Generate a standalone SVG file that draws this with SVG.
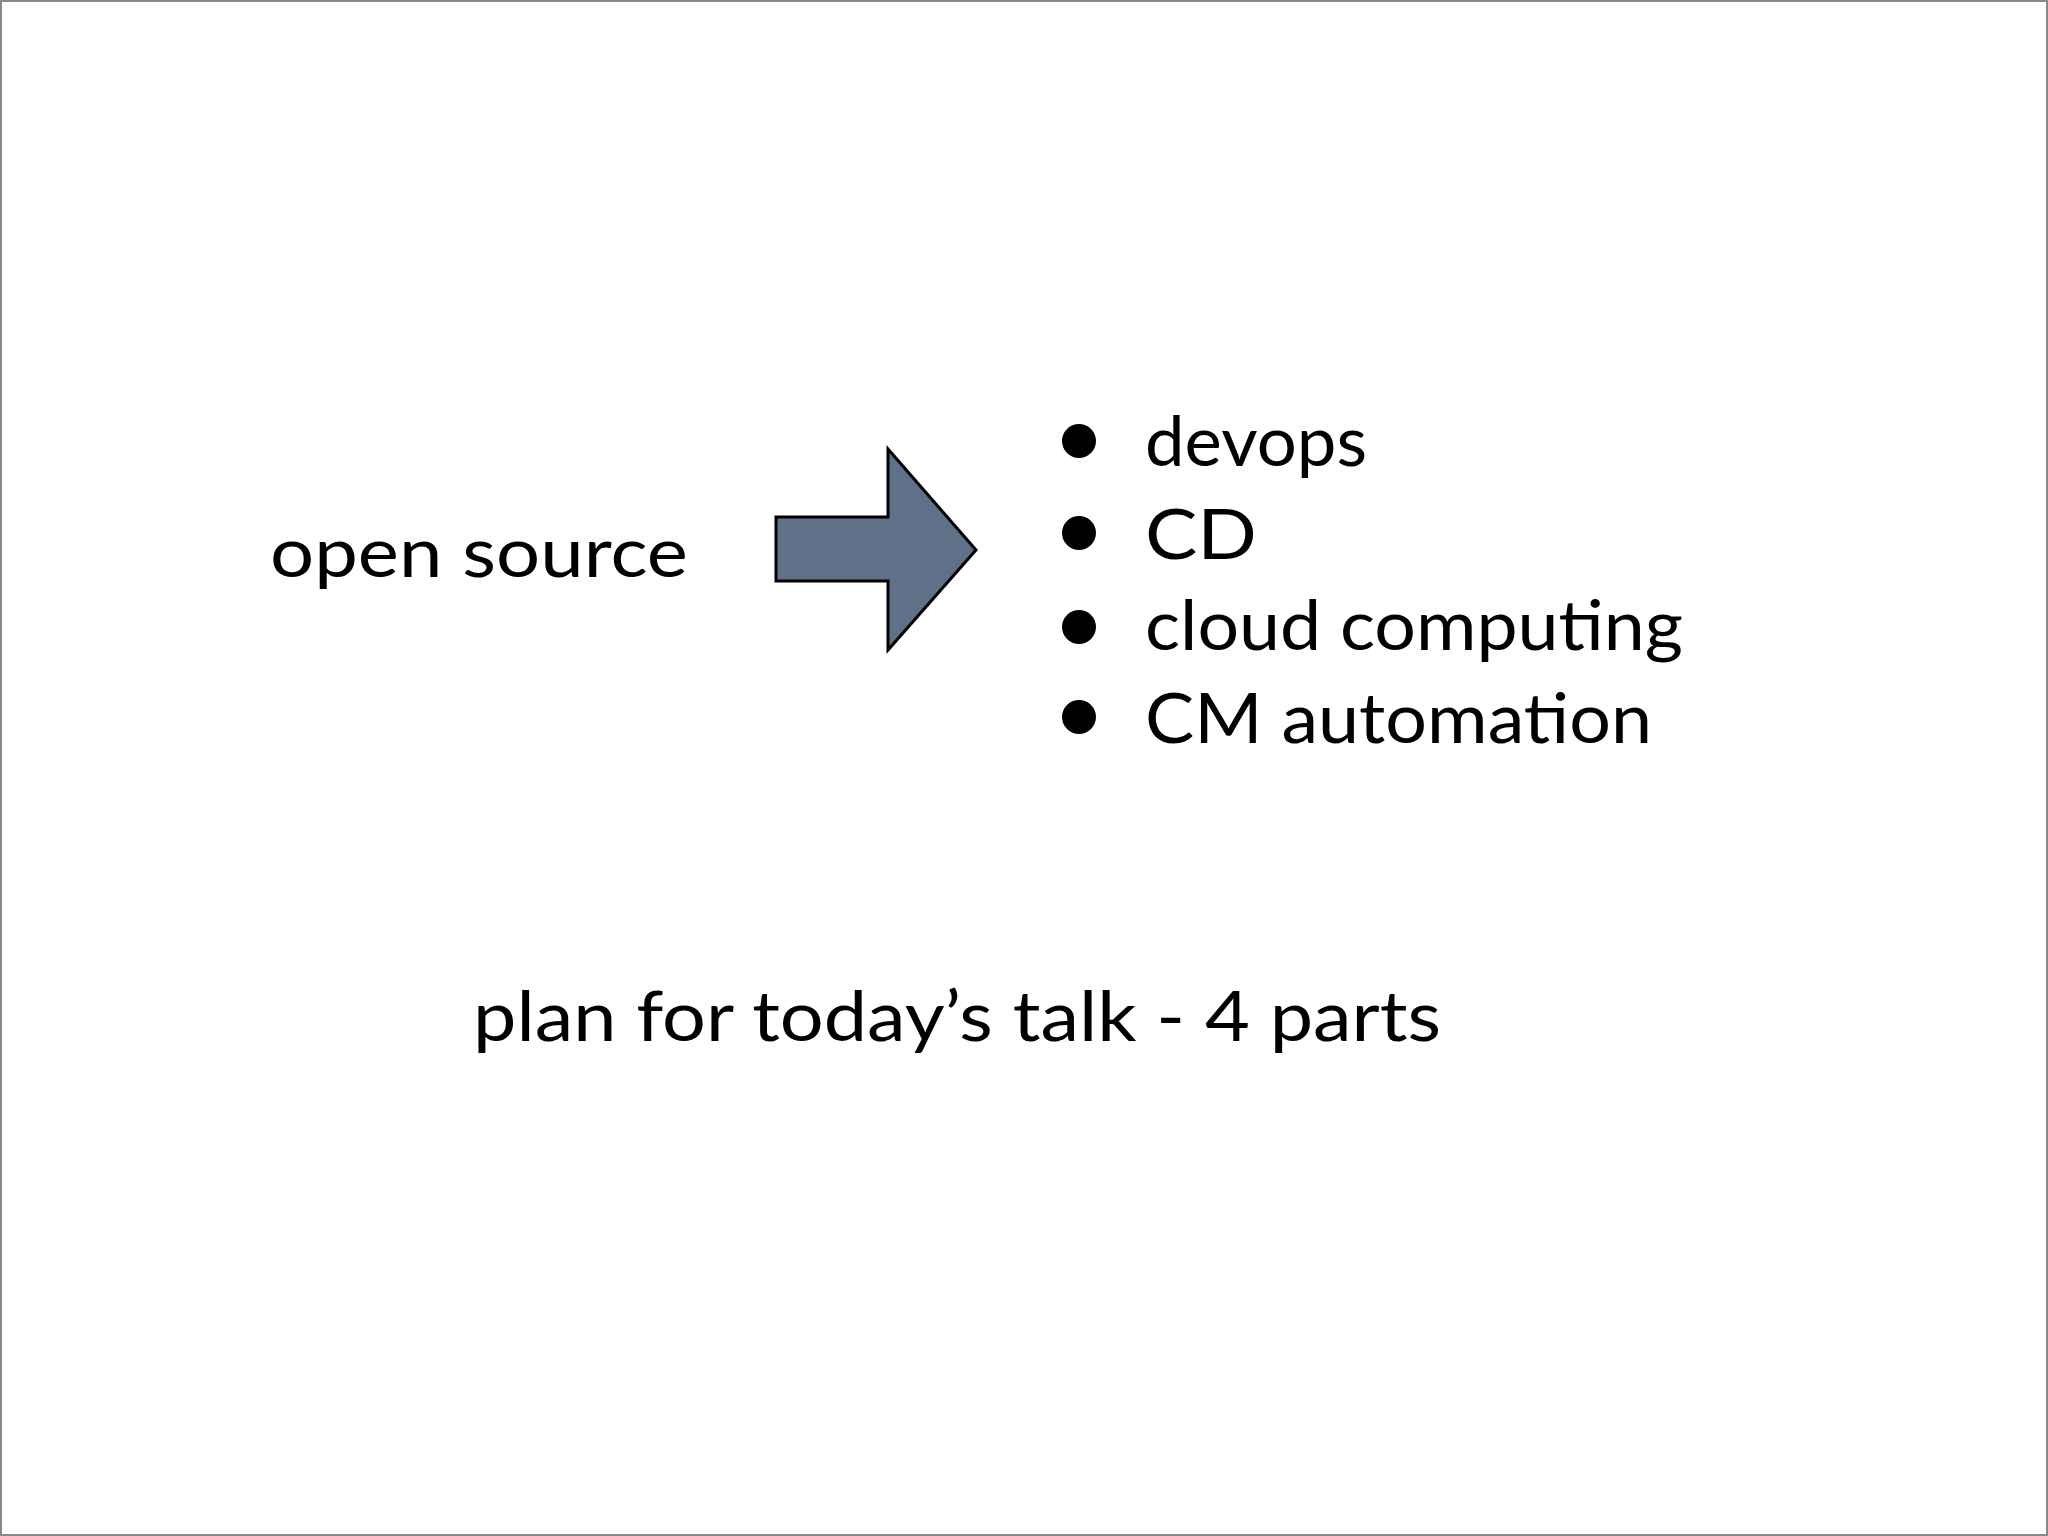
<svg xmlns="http://www.w3.org/2000/svg" width="2048" height="1536" viewBox="0 0 2048 1536">
<style>
text{font-family:Lato,"Open Sans","Liberation Sans",sans-serif;font-size:70px;fill:#000}
</style>
<rect x="1" y="1" width="2046" height="1534" fill="#fff" stroke="#888" stroke-width="2"/>
<g id="source"><text x="270" y="577" textLength="418" lengthAdjust="spacingAndGlyphs">open source</text></g>
<g id="connectors">
<polygon points="776,517 888,517 888,449 976,550 888,650 888,581 776,581" fill="#5f7189" stroke="#000" stroke-width="3"/>
</g>
<g id="list">
<circle cx="1079" cy="441" r="17"/><circle cx="1079" cy="533" r="17"/><circle cx="1079" cy="627" r="17"/><circle cx="1079" cy="717" r="17"/>
<text x="1145" y="466" textLength="222" lengthAdjust="spacingAndGlyphs">devops</text>
<text x="1145" y="559" textLength="112" lengthAdjust="spacingAndGlyphs">CD</text>
<text x="1145" y="650" textLength="538" lengthAdjust="spacingAndGlyphs">cloud computing</text>
<text x="1145" y="743" textLength="507" lengthAdjust="spacingAndGlyphs">CM automation</text>
</g>
<g id="plan"><text x="473" y="1041" textLength="968" lengthAdjust="spacingAndGlyphs">plan for today’s talk - 4 parts</text></g>
</svg>
